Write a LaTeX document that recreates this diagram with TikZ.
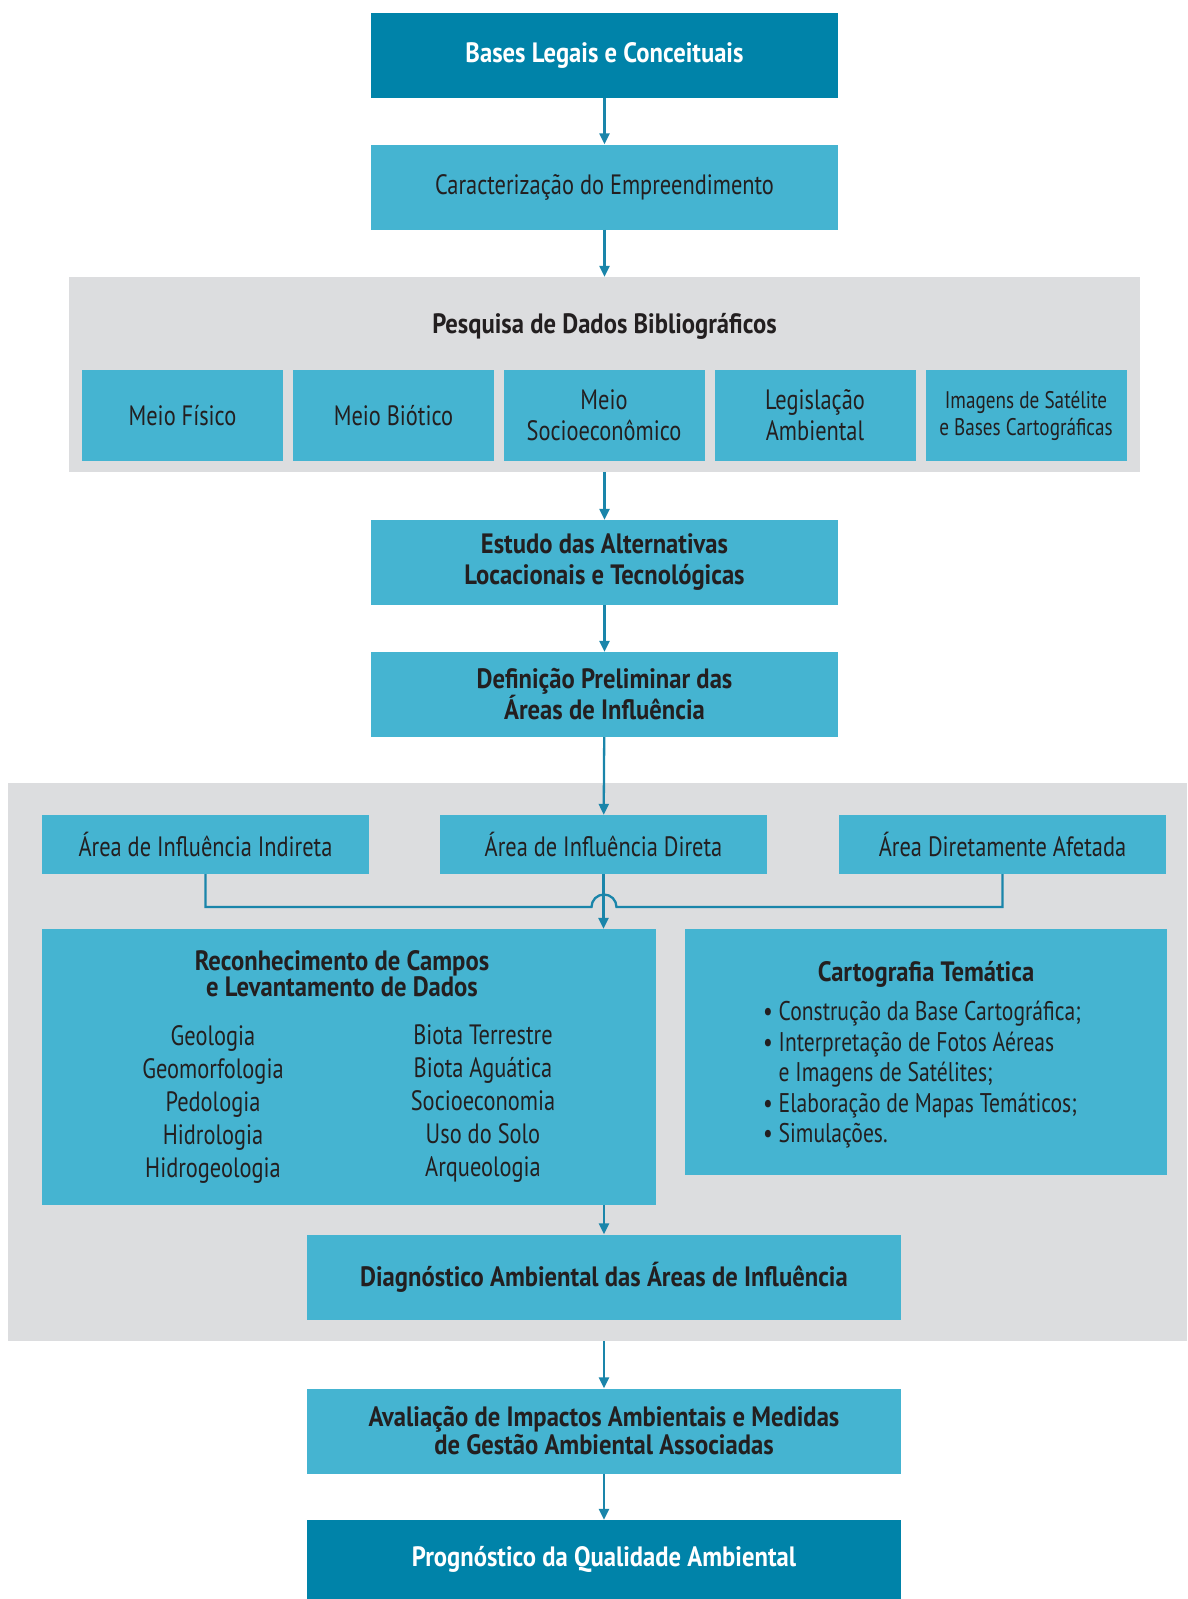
\documentclass[tikz,border=0pt]{standalone}
\usepackage{fontspec}
\setmainfont{PT Sans}[FakeStretch=0.8, BoldFeatures={FakeStretch=0.88}]
\usetikzlibrary{arrows.meta}

\definecolor{darkblue}{HTML}{0083A9}
\definecolor{lightblue}{HTML}{45B4D1}
\definecolor{panelgray}{HTML}{DCDDDF}
\definecolor{linkblue}{HTML}{1A85AA}
\definecolor{inkdark}{HTML}{231F20}

\tikzset{
  darkbox/.style  = {fill=darkblue, text=white, font=\fontsize{28}{31}\selectfont\bfseries,
                     minimum width=467pt, minimum height=85pt, align=center, inner sep=0pt},
  lightbox/.style = {fill=lightblue, text=inkdark, font=\fontsize{28}{31}\selectfont,
                     minimum height=85pt, align=center, inner sep=0pt},
  subbox/.style   = {lightbox, minimum width=201pt, minimum height=91pt},
  areabox/.style  = {lightbox, minimum width=327pt, minimum height=59pt},
  panel/.style    = {fill=panelgray, inner sep=0pt},
  link/.style     = {draw=linkblue, line width=2.3pt, -{Triangle[length=11pt,width=10pt]}},
  joint/.style    = {draw=linkblue, line width=2.3pt}
}

\begin{document}
\begin{tikzpicture}[x=1pt, y=-1pt]

  \useasboundingbox (0,0) rectangle (1187,1599);

  % gray panels
  \node[panel, minimum width=1071pt, minimum height=195pt] (pesq)  at ( 604.5,  374.5) {};
  \node[panel, minimum width=1179pt, minimum height=558pt] (campo) at ( 597.5, 1062.0) {};

  \node[darkbox]                          (bases) at (604.5,   55.5) {Bases Legais e Conceituais};
  \node[lightbox, minimum width=467pt]    (carac) at (604.5,  187.0) {Caracterização do Empreendimento};

  \node[font=\fontsize{28}{31}\selectfont\bfseries, text=inkdark] (pesqt) at (604.5, 326) {Pesquisa de Dados Bibliográficos};
  \node[subbox] (fis)  at ( 182.5, 415.5) {Meio Físico};
  \node[subbox] (bio)  at ( 393.5, 415.5) {Meio Biótico};
  \node[subbox] (soc)  at ( 604.0, 415.5) {Meio\\Socioeconômico};
  \node[subbox] (leg)  at ( 815.0, 415.5) {Legislação\\Ambiental};
  \node[subbox, font=\fontsize{24}{27}\selectfont] (img) at (1026.0, 415.5) {Imagens de Satélite\\e Bases Cartográficas};

  \node[lightbox, minimum width=467pt, font=\fontsize{28}{31}\selectfont\bfseries] (estudo) at (604.5, 562.5) {Estudo das Alternativas\\Locacionais e Tecnológicas};
  \node[lightbox, minimum width=467pt, font=\fontsize{28}{31}\selectfont\bfseries] (defin)  at (604.5, 694.5) {Definição Preliminar das\\Áreas de Influência};

  \node[areabox] (aii) at ( 205.5, 844.5) {Área de Influência Indireta};
  \node[areabox] (aid) at ( 603.5, 844.5) {Área de Influência Direta};
  \node[areabox] (ada) at (1002.5, 844.5) {Área Diretamente Afetada};

  % field survey box
  \node[lightbox, minimum width=614pt, minimum height=276pt] (reco) at (349, 1067) {};
  \node[text=inkdark, font=\fontsize{28}{26}\selectfont\bfseries, align=center] (recot) at (342, 974) {Reconhecimento de Campos\\e Levantamento de Dados};
  \node[text=inkdark, font=\fontsize{28}{33}\selectfont, align=center] (recol) at (213, 1104) {Geologia\\Geomorfologia\\Pedologia\\Hidrologia\\Hidrogeologia};
  \node[text=inkdark, font=\fontsize{28}{33}\selectfont, align=center] (recor) at (483, 1104) {Biota Terrestre\\Biota Aguática\\Socioeconomia\\Uso do Solo\\Arqueologia};

  % thematic cartography box
  \node[lightbox, minimum width=482pt, minimum height=246pt] (carto) at (926, 1052) {};
  \node[text=inkdark, font=\fontsize{28}{31}\selectfont\bfseries] (cartot) at (926, 974) {Cartografia Temática};
  \node[text=inkdark, font=\fontsize{27}{30.5}\selectfont, align=left, anchor=west, inner sep=0pt] (cartol) at (763, 1075)
    {\textbullet\ Construção da Base Cartográfica;\\\textbullet\ Interpretação de Fotos Aéreas\\\phantom{\textbullet}\ e Imagens de Satélites;\\\textbullet\ Elaboração de Mapas Temáticos;\\\textbullet\ Simulações.};

  \node[lightbox, minimum width=594pt, font=\fontsize{28}{31}\selectfont\bfseries] (diag) at (604, 1277) {Diagnóstico Ambiental das Áreas de Influência};
  \node[lightbox, minimum width=594pt, font=\fontsize{28}{28}\selectfont\bfseries] (aval) at (604, 1431) {Avaliação de Impactos Ambientais e Medidas\\de Gestão Ambiental Associadas};
  \node[darkbox, minimum width=594pt, minimum height=79pt] (prog) at (604, 1559.5) {Prognóstico da Qualidade Ambiental};

  % connectors
  \draw[link] (bases) -- (carac);
  \draw[link] (carac.south) -- (carac.south |- pesq.north);
  \draw[link] (pesq.south -| estudo.north) -- (estudo.north);
  \draw[link] (estudo) -- (defin);
  \draw[link] (defin) -- (aid);

  \coordinate (hopl) at (591.5, 907);
  \draw[joint] (aii.south) |- (hopl) arc[start angle=180, end angle=0, radius=12.5pt] -| (ada.south);
  \draw[link] (aid.south) -- (aid.south |- reco.north);

  \draw[link] (reco.south -| diag.north) -- (diag.north);
  \draw[link] (campo.south -| aval.north) -- (aval.north);
  \draw[link] (aval) -- (prog);

\end{tikzpicture}
\end{document}
